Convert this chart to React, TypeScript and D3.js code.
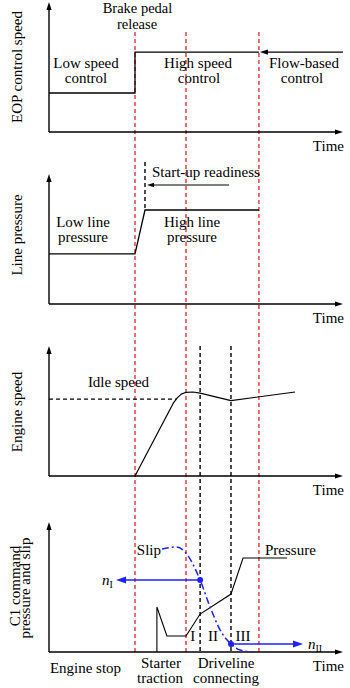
import React from "react";
import * as d3 from "d3";

// ---- data (time in % of axis length, values in % of panel height) ----
const redEventTimes = [29.25, 46.6, 71.4];
const blackEventTimes = [51.4, 61.9];
const startupTime = 32.65;

const eopTimes = [0, 29.25, 29.25, 71.4];
const eopValues = [30, 30, 61.5, 61.5];
const flowArrowTimes = [100, 71.4];
const flowArrowValue = 61.5;

const lineTimes = [0, 29.25, 32.65, 71.4];
const lineValues = [38.5, 38.5, 72.3, 72.3];

const idleTimes = [0, 43.3];
const idleValue = 59.2;
const engineTimes = [29.25, 42.4, 43.7, 45.0, 46.6, 49.0, 51.4, 61.9, 83.7];
const engineValues = [0, 56.5, 60.3, 63.0, 64.4, 64.6, 63.8, 58, 64.6];

const pressureTimes = [36.7, 36.7, 40.1, 46.6, 51.4, 61.9, 66, 81];
const pressureValues = [0, 34.6, 12.3, 12.3, 29.2, 44.6, 72.3, 72.3];

const slipTimes = [38.4, 43.5, 46.3, 51.4, 54.8, 58.2, 61.9, 65, 69.4];
const slipValues = [79.2, 80.8, 76.9, 55.4, 34.6, 16.9, 6.2, 1.5, 0];

const nITimes = [51.4, 22.8];
const nIValue = 55.4;
const nIITimes = [61.9, 86.4];
const nIIValue = 6.2;

const axisTitles = ["EOP control speed", "Line pressure", "Engine speed"];
const c1TitleLines = ["C1 command", "pressure and slip"];
const romanLabels = ["I", "II", "III"];

const FONT = "'Liberation Serif', 'Times New Roman', serif";
const RED = "#e8202a";
const BLUE = "#1f1fff";

const x = d3.scaleLinear().domain([0, 100]).range([49, 343]);
const panelAxisY = [132, 304, 476, 652];
const yScales = panelAxisY.map((a) => d3.scaleLinear().domain([0, 100]).range([a, a - 130]));

const pts = (ts: number[], vs: number[]) => ts.map((t, i) => [t, vs[i]] as [number, number]);

function lineGen(ys: d3.ScaleLinear<number, number>, curve?: d3.CurveFactory) {
  const g = d3.line<[number, number]>().x((d) => x(d[0])).y((d) => ys(d[1]));
  if (curve) g.curve(curve);
  return g;
}

function ArrowHead({ tx, ty, dir, size = 8, half = 2.6, color = "#000" }: any) {
  let p = "";
  if (dir === "up") p = `M${tx},${ty} L${tx - half},${ty + size} L${tx + half},${ty + size} Z`;
  if (dir === "right") p = `M${tx},${ty} L${tx - size},${ty - half} L${tx - size},${ty + half} Z`;
  if (dir === "left") p = `M${tx},${ty} L${tx + size},${ty - half} L${tx + size},${ty + half} Z`;
  return <path d={p} fill={color} stroke="none" />;
}

function Axes({ i }: { i: number }) {
  const ay = panelAxisY[i];
  const top = ay - 130;
  return (
    <g>
      <line x1={x(0)} y1={ay} x2={x(0)} y2={top + 4} stroke="#000" strokeWidth={1.4} />
      <line x1={x(0)} y1={ay} x2={x(100) - 4} y2={ay} stroke="#000" strokeWidth={1.4} />
      <ArrowHead tx={x(0)} ty={top} dir="up" />
      <ArrowHead tx={x(100)} ty={ay} dir="right" />
      <text x={344} y={ay + 19} textAnchor="end" fontSize={15} fontFamily={FONT}>Time</text>
    </g>
  );
}

function YTitle({ text, cx, cy }: any) {
  return (
    <text transform={`translate(${cx},${cy}) rotate(-90)`} textAnchor="middle" fontSize={15} fontFamily={FONT}>
      {text}
    </text>
  );
}

export default function App() {
  const [y1, y2, y3, y4] = yScales;
  const t = (s: string, xx: number, yy: number, anchor = "middle", extra: any = {}) => (
    <text x={xx} y={yy} textAnchor={anchor} fontSize={15} fontFamily={FONT} {...extra}>{s}</text>
  );
  return (
    <svg width={350} height={688} style={{ position: "absolute", left: 0, top: 0, background: "#fff" }}>
      <rect width={350} height={688} fill="#fff" />
      {redEventTimes.map((tt, i) => (
        <line key={"r" + i} x1={x(tt)} x2={x(tt)} y1={32} y2={652} stroke={RED} strokeWidth={1.3} strokeDasharray="4,3" />
      ))}
      {blackEventTimes.map((tt, i) => (
        <line key={"b" + i} x1={x(tt)} x2={x(tt)} y1={346} y2={652} stroke="#000" strokeWidth={1.4} strokeDasharray="4,3" />
      ))}

      {/* Panel 1 */}
      <Axes i={0} />
      <YTitle text={axisTitles[0]} cx={22} cy={67} />
      <path d={lineGen(y1)(pts(eopTimes, eopValues)) || ""} fill="none" stroke="#000" strokeWidth={1.3} />
      <line x1={x(flowArrowTimes[0])} x2={x(flowArrowTimes[1]) + 6} y1={y1(flowArrowValue)} y2={y1(flowArrowValue)} stroke="#000" strokeWidth={1.3} />
      <ArrowHead tx={x(flowArrowTimes[1]) + 1} ty={y1(flowArrowValue)} dir="left" />
      {t("Brake pedal", 137.5, 13, "middle", { fontSize: 14.5 })}
      {t("release", 137, 29, "middle", { fontSize: 14.5 })}
      {t("Low speed", 86, 68)}
      {t("control", 86, 83)}
      {t("High speed", 198, 68)}
      {t("control", 199, 83)}
      {t("Flow-based", 304, 68)}
      {t("control", 302, 83)}

      {/* Panel 2 */}
      <Axes i={1} />
      <YTitle text={axisTitles[1]} cx={22} cy={235} />
      <line x1={x(startupTime)} x2={x(startupTime)} y1={162} y2={y2(72.3)} stroke="#000" strokeWidth={1.4} strokeDasharray="4,3" />
      <path d={lineGen(y2)(pts(lineTimes, lineValues)) || ""} fill="none" stroke="#000" strokeWidth={1.3} />
      <line x1={229} x2={153} y1={185} y2={185} stroke="#000" strokeWidth={1.2} />
      <ArrowHead tx={147} ty={185} dir="left" size={7} half={2.3} />
      {t("Start-up readiness", 152, 177, "start")}
      {t("Low line", 83, 227)}
      {t("pressure", 83, 242)}
      {t("High line", 192, 227)}
      {t("pressure", 192, 242)}

      {/* Panel 3 */}
      <Axes i={2} />
      <YTitle text={axisTitles[2]} cx={22} cy={412} />
      <line x1={x(idleTimes[0])} x2={x(idleTimes[1])} y1={y3(idleValue)} y2={y3(idleValue)} stroke="#000" strokeWidth={1.3} strokeDasharray="4,3" />
      <path d={lineGen(y3)(pts(engineTimes, engineValues)) || ""} fill="none" stroke="#000" strokeWidth={1.2} strokeLinejoin="round" />
      {t("Idle speed", 118.5, 387)}

      {/* Panel 4 */}
      <Axes i={3} />
      <YTitle text={c1TitleLines[0]} cx={19.5} cy={586} />
      <YTitle text={c1TitleLines[1]} cx={30} cy={588} />
      <path d={lineGen(y4)(pts(pressureTimes, pressureValues)) || ""} fill="none" stroke="#000" strokeWidth={1.1} />
      <path d={lineGen(y4, d3.curveMonotoneX)(pts(slipTimes, slipValues)) || ""} fill="none" stroke={BLUE} strokeWidth={1.5} strokeDasharray="7,3,2,3" />
      <line x1={x(nITimes[0])} x2={x(nITimes[1]) + 6} y1={y4(nIValue)} y2={y4(nIValue)} stroke={BLUE} strokeWidth={1.6} />
      <ArrowHead tx={x(nITimes[1])} ty={y4(nIValue)} dir="left" size={10} half={3.5} color={BLUE} />
      <circle cx={x(nITimes[0])} cy={y4(nIValue)} r={3} fill={BLUE} />
      <line x1={x(nIITimes[0])} x2={x(nIITimes[1]) - 6} y1={y4(nIIValue)} y2={y4(nIIValue)} stroke={BLUE} strokeWidth={1.6} />
      <ArrowHead tx={x(nIITimes[1])} ty={y4(nIIValue)} dir="right" size={10} half={3.5} color={BLUE} />
      <circle cx={x(nIITimes[0])} cy={y4(nIIValue)} r={3} fill={BLUE} />
      <text x={102} y={585} fontSize={15} fontFamily={FONT}>
        <tspan fontStyle="italic">n</tspan>
        <tspan fontSize={10} dy={3}>I</tspan>
      </text>
      <text x={308} y={649} fontSize={15} fontFamily={FONT}>
        <tspan fontStyle="italic">n</tspan>
        <tspan fontSize={10} dy={3}>II</tspan>
      </text>
      {t("Slip", 161, 555, "end")}
      {t("Pressure", 265, 555, "start")}
      {t(romanLabels[0], 192.7, 641)}
      {t(romanLabels[1], 213, 641)}
      {t(romanLabels[2], 243, 641)}
      {t("Engine stop", 85.5, 673)}
      {t("Starter", 161, 668)}
      {t("traction", 160, 683)}
      {t("Driveline", 226, 668)}
      {t("connecting", 226, 683)}
    </svg>
  );
}
